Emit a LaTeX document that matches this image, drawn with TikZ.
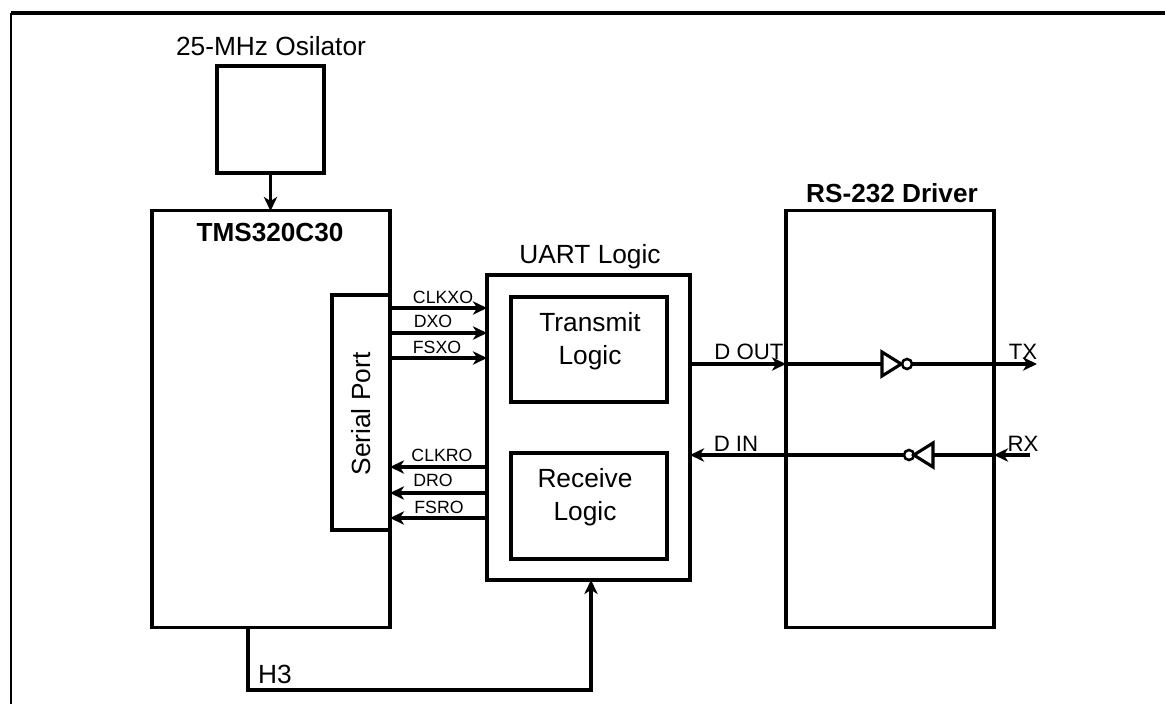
\documentclass[tikz,border=0pt]{standalone}
\usepackage{fontspec}
\setmainfont{Liberation Sans}
\usetikzlibrary{arrows.meta,shapes.geometric}

\tikzset{
  box/.style={draw,line width=2.2pt,outer sep=0pt,inner sep=0pt},
  wire/.style={line width=2.2pt,-{Stealth[length=10pt,width=9.5pt,inset=3pt]}},
  plain wire/.style={line width=2.2pt},
  txt/.style={inner sep=0pt,align=center,font=\fontsize{18.7}{23.5}\selectfont},
  txtb/.style={inner sep=0pt,font=\fontsize{18.6}{22}\selectfont\bfseries},
  sig/.style={inner sep=0pt,font=\fontsize{12.6}{15}\selectfont},
  pin/.style={inner sep=0pt,font=\fontsize{15.8}{19}\selectfont},
  inv/.style={draw,line width=2.2pt,isosceles triangle,isosceles triangle apex angle=66,isosceles triangle stretches,inner sep=0pt,outer sep=0pt,minimum width=0.6cm,minimum height=0.48cm},
  bubble/.style={draw,line width=1.8pt,circle,inner sep=0pt,outer sep=0pt,minimum size=0.25cm},
}

\begin{document}
\begin{tikzpicture}[x=0.025cm,y=-0.025cm]
\useasboundingbox (0,0) rectangle (1165,704);

% frame
\coordinate (framea) at (11,704);
\coordinate (frameb) at (11,13);
\coordinate (framec) at (1165,13);
\draw[line width=1.7pt] (framea) -- (frameb);
\draw[line width=2.4pt] (frameb) -- (framec);

% blocks
\node[box,minimum width=2.675cm,minimum height=2.675cm] (osc) at (270.5,119.5) {};
\node[box,minimum width=5.95cm,minimum height=10.4cm] (tms) at (271,419) {};
\node[box,minimum width=1.45cm,minimum height=5.875cm] (serial) at (361,412.5) {};
\node[box,minimum width=5.075cm,minimum height=7.625cm] (uart) at (588.5,427.5) {};
\node[box,minimum width=3.9cm,minimum height=2.625cm] (transmit) at (589,349.5) {};
\node[box,minimum width=3.9cm,minimum height=2.65cm] (receive) at (589,506) {};
\node[box,minimum width=5.2cm,minimum height=10.4cm] (driver) at (890,419) {};

% texts of the blocks
\node[txt] (osclabel) at (271,46) {25-MHz Osilator};
\node[txtb] (tmslabel) at (270,233) {TMS320C30};
\node[txt,rotate=90] (seriallabel) at (361,414) {Serial Port};
\node[txt] (uartlabel) at (590,257) {UART Logic};
\node[txt] (transmitlabel) at (590,341) {Transmit\\Logic};
\node[txt] (receivelabel) at (585,497) {Receive\\Logic};
\node[txtb] (driverlabel) at (892,193) {RS-232 Driver};

% clock
\draw[wire] (osc.south) -- (tms.north -| osc.south);

% serial lines
\coordinate (clkxo) at (390,308);
\coordinate (dxo) at (390,333);
\coordinate (fsxo) at (390,358);
\coordinate (clkro) at (390,467);
\coordinate (dro) at (390,493);
\coordinate (fsro) at (390,518);
\draw[wire] (clkxo) -- (clkxo -| uart.west);
\draw[wire] (dxo) -- (dxo -| uart.west);
\draw[wire] (fsxo) -- (fsxo -| uart.west);
\draw[wire] (clkro -| uart.west) -- (clkro);
\draw[wire] (dro -| uart.west) -- (dro);
\draw[wire] (fsro -| uart.west) -- (fsro);
\node[sig] (clkxolabel) at (443,297) {CLKXO};
\node[sig] (dxolabel) at (433,321) {DXO};
\node[sig] (fsxolabel) at (437,347) {FSXO};
\node[sig] (clkrolabel) at (442,455) {CLKRO};
\node[sig] (drolabel) at (433,480) {DRO};
\node[sig] (fsrolabel) at (439,507) {FSRO};

% transmit path
\coordinate (tx) at (1037,364);
\node[inv,anchor=lower side] (invtx) at (882,364) {};
\node[bubble] (bubtx) at (907,364) {};
\draw[wire] (tx -| uart.east) -- (tx -| driver.west);
\draw[plain wire] (tx -| driver.west) -- (invtx.lower side);
\draw[wire] (bubtx) -- (tx);
\node[pin] (doutlabel) at (749,352) {D OUT};
\node[pin] (txlabel) at (1023,352) {TX};

% receive path
\coordinate (rx) at (1030,455);
\node[inv,anchor=lower side,shape border rotate=180] (invrx) at (933,455) {};
\node[bubble] (bubrx) at (909,455) {};
\draw[wire] (rx) -- (rx -| driver.east);
\draw[plain wire] (rx -| driver.east) -- (invrx.lower side);
\draw[wire] (bubrx) -- (rx -| uart.east);
\node[pin] (dinlabel) at (736,444) {D IN};
\node[pin] (rxlabel) at (1023,444) {RX};

% H3
\coordinate (hthree) at (248,690);
\coordinate (uartin) at (591,580);
\draw[wire] (hthree |- tms.south) -- (hthree) -| (uartin);
\node[txt] (hthreelabel) at (275,674) {H3};
\end{tikzpicture}
\end{document}
